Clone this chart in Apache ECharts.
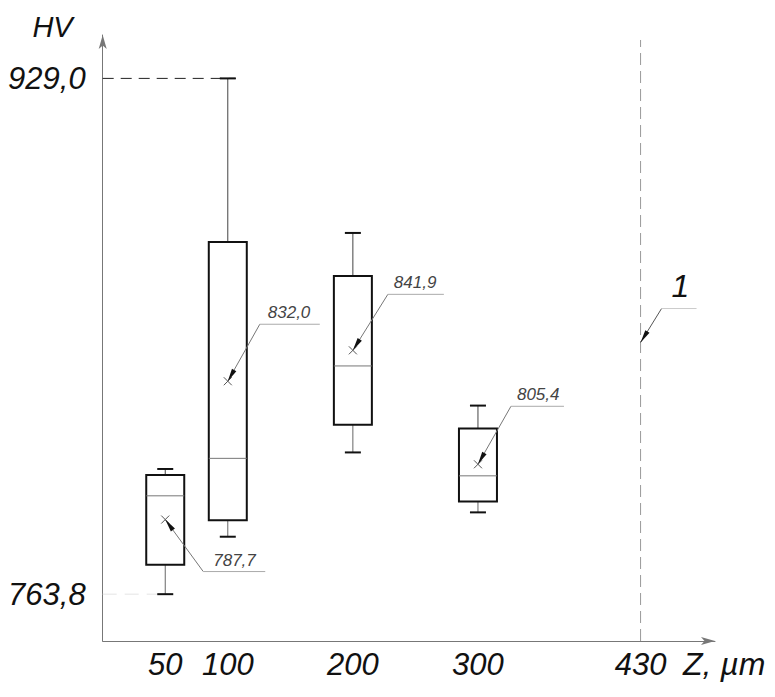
<!DOCTYPE html>
<html>
<head>
<meta charset="utf-8">
<script src="https://cdn.jsdelivr.net/npm/echarts@6/dist/echarts.min.js"></script>
<style>
html,body{margin:0;padding:0;background:#fff;}
#chart{width:775px;height:697px;}
</style>
</head>
<body>
<div id="chart"></div>
<script>
// ---- data ----
const depths = [50, 100, 200, 300];               // Z, µm
const whiskerLow  = [763.8, 782.2, 809.2, 790.0];
const q1          = [773.2, 787.5, 818.1, 793.5];
const median      = [795.3, 807.3, 836.9, 801.7];
const q3          = [802.0, 876.6, 865.7, 816.9];
const whiskerHigh = [803.9, 929.0, 879.5, 824.2];
const means       = [787.7, 832.0, 841.9, 805.4];
const xTickValues = [50, 100, 200, 300, 430];
const yTickValues = [763.8, 929.0];
const refLineZ = 430;
const refLineTop = 941.3;
const refArrowHV = 844.4;
const refLabel = '1';

// ---- styling (pixel offsets of annotation leaders) ----
const FONT = '"Liberation Sans", Arimo, sans-serif';
const leaders = [
  {dx: 38, dy: 52, len: 62, tx: 10},
  {dx: 32, dy: -57, len: 60, tx: 8},
  {dx: 35, dy: -56, len: 56, tx: 6},
  {dx: 33, dy: -58, len: 53, tx: 6}
];
const fmt = v => v.toFixed(1).replace('.', ',');
const globalMax = Math.max.apply(null, whiskerHigh);
const globalMin = Math.min.apply(null, whiskerLow);

const boxData = depths.map((d, i) => [d, whiskerLow[i], q1[i], median[i], q3[i], whiskerHigh[i], means[i]]);

function arrowHead(sx, sy, tx, ty, len, half) {
  const vx = tx - sx, vy = ty - sy;
  const L = Math.sqrt(vx * vx + vy * vy);
  const ux = vx / L, uy = vy / L;
  const bx = tx - ux * len, by = ty - uy * len;
  return [[tx, ty], [bx - uy * half, by + ux * half], [bx + uy * half, by - ux * half]];
}

function renderBox(params, api) {
  const i = params.dataIndex;
  const x = api.value(0);
  const pLow = api.coord([x, api.value(1)]);
  const pQ1 = api.coord([x, api.value(2)]);
  const pMed = api.coord([x, api.value(3)]);
  const pQ3 = api.coord([x, api.value(4)]);
  const pHigh = api.coord([x, api.value(5)]);
  const pMean = api.coord([x, api.value(6)]);
  const cx = pLow[0];
  const hw = 19, cap = 8;
  const axisX = api.coord([0, api.value(1)])[0];
  const children = [];
  if (api.value(5) === globalMax) {
    children.push({type: 'line', shape: {x1: axisX, y1: pHigh[1], x2: cx + cap, y2: pHigh[1]},
      style: {stroke: '#222', lineWidth: 1, lineDash: [11, 7]}});
  }
  if (api.value(1) === globalMin) {
    children.push({type: 'line', shape: {x1: axisX, y1: pLow[1], x2: cx - cap, y2: pLow[1]},
      style: {stroke: '#e4e4e4', lineWidth: 1, lineDash: [14, 8]}});
  }
  children.push(
    {type: 'line', shape: {x1: cx, y1: pQ1[1], x2: cx, y2: pLow[1]}, style: {stroke: '#666', lineWidth: 1}},
    {type: 'line', shape: {x1: cx, y1: pQ3[1], x2: cx, y2: pHigh[1]}, style: {stroke: '#444', lineWidth: 1}},
    {type: 'line', shape: {x1: cx - cap, y1: pLow[1], x2: cx + cap, y2: pLow[1]}, style: {stroke: '#111', lineWidth: 2}},
    {type: 'line', shape: {x1: cx - cap, y1: pHigh[1], x2: cx + cap, y2: pHigh[1]}, style: {stroke: '#111', lineWidth: 2}},
    {type: 'rect', shape: {x: cx - hw, y: pQ3[1], width: 2 * hw, height: pQ1[1] - pQ3[1]},
      style: {fill: '#fff', stroke: '#111', lineWidth: 2}},
    {type: 'line', shape: {x1: cx - hw, y1: pMed[1], x2: cx + hw, y2: pMed[1]}, style: {stroke: '#777', lineWidth: 1}},
    {type: 'line', shape: {x1: pMean[0] - 4, y1: pMean[1] - 4, x2: pMean[0] + 4, y2: pMean[1] + 4}, style: {stroke: '#555', lineWidth: 1}},
    {type: 'line', shape: {x1: pMean[0] - 4, y1: pMean[1] + 4, x2: pMean[0] + 4, y2: pMean[1] - 4}, style: {stroke: '#555', lineWidth: 1}}
  );
  const ld = leaders[i];
  const sx = pMean[0] + ld.dx, sy = pMean[1] + ld.dy;
  children.push(
    {type: 'line', shape: {x1: sx, y1: sy, x2: pMean[0], y2: pMean[1]}, style: {stroke: '#777', lineWidth: 1}},
    {type: 'polygon', shape: {points: arrowHead(sx, sy, pMean[0], pMean[1], 13, 2.5)}, style: {fill: '#111'}},
    {type: 'line', shape: {x1: sx, y1: sy, x2: sx + ld.len, y2: sy}, style: {stroke: '#aaa', lineWidth: 1}},
    {type: 'text', x: sx + ld.tx, y: sy - 3,
      style: {text: fmt(api.value(6)), fill: '#444', font: 'italic 17px ' + FONT, textAlign: 'left', textVerticalAlign: 'bottom'}}
  );
  return {type: 'group', children: children};
}

function renderRef(params, api) {
  const x = api.value(0);
  const pBot = api.coord([x, 748.8]);
  const pTop = api.coord([x, api.value(1)]);
  const pArr = api.coord([x, api.value(2)]);
  const sx = pArr[0] + 21, sy = pArr[1] - 34;
  return {type: 'group', children: [
    {type: 'line', shape: {x1: pBot[0], y1: pBot[1], x2: pTop[0], y2: pTop[1]}, style: {stroke: '#999', lineWidth: 1, lineDash: [12, 6]}},
    {type: 'line', shape: {x1: sx, y1: sy, x2: pArr[0], y2: pArr[1]}, style: {stroke: '#555', lineWidth: 1}},
    {type: 'polygon', shape: {points: arrowHead(sx, sy, pArr[0], pArr[1], 13, 2.5)}, style: {fill: '#111'}},
    {type: 'line', shape: {x1: sx, y1: sy, x2: sx + 35, y2: sy}, style: {stroke: '#ccc', lineWidth: 1}},
    {type: 'text', x: sx + 10, y: sy - 7,
      style: {text: refLabel, fill: '#111', font: 'italic 32px ' + FONT, textAlign: 'left', textVerticalAlign: 'bottom'}}
  ]};
}

const chart = echarts.init(document.getElementById('chart'), null, {renderer: 'svg'});
chart.setOption({
  backgroundColor: '#fff',
  animation: false,
  grid: {left: 102.7, right: 60, top: 35, bottom: 56, outerBoundsMode: 'none', containLabel: false},
  xAxis: {
    type: 'value', min: 0, max: 489.5,
    axisLine: {show: true, onZero: false, lineStyle: {color: '#777', width: 1}, symbol: ['none', 'arrow'], symbolSize: [6, 14]},
    axisTick: {show: false}, splitLine: {show: false},
    axisLabel: {customValues: xTickValues, formatter: v => String(v), fontSize: 31, fontStyle: 'italic', fontFamily: FONT, color: '#111', margin: 8},
    name: 'Z, µm', nameLocation: 'end', nameGap: -32,
    nameTextStyle: {fontSize: 32, fontStyle: 'italic', fontFamily: FONT, color: '#111', align: 'left', verticalAlign: 'top', padding: [7, 0, 0, 0]}
  },
  yAxis: {
    type: 'value', min: 748.8, max: 942.9,
    axisLine: {show: true, onZero: false, lineStyle: {color: '#777', width: 1}, symbol: ['none', 'arrow'], symbolSize: [6, 14]},
    axisTick: {show: false}, splitLine: {show: false},
    axisLabel: {customValues: yTickValues, formatter: v => fmt(v), fontSize: 31, fontStyle: 'italic', fontFamily: FONT, color: '#111', margin: 17},
    name: 'HV', nameLocation: 'end', nameGap: 8,
    nameTextStyle: {fontSize: 29, fontStyle: 'italic', fontFamily: FONT, color: '#111', align: 'right', verticalAlign: 'middle', padding: [0, 30, 0, 0]}
  },
  series: [
    {type: 'custom', clip: false, renderItem: renderBox, data: boxData, encode: {x: 0, y: [1, 2, 3, 4, 5, 6]}, z: 3},
    {type: 'custom', clip: false, renderItem: renderRef, data: [[refLineZ, refLineTop, refArrowHV]], encode: {x: 0, y: [1, 2]}, z: 2}
  ]
});
</script>
</body>
</html>
